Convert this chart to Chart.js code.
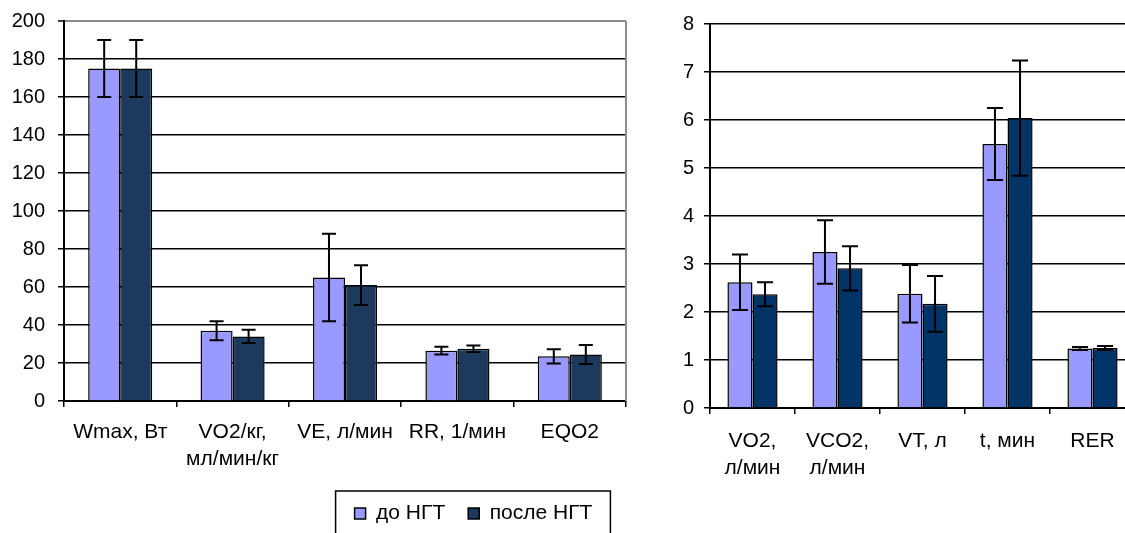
<!DOCTYPE html>
<html>
<head>
<meta charset="utf-8">
<script src="https://cdn.jsdelivr.net/npm/chart.js@4.4.1/dist/chart.umd.min.js"></script>
<style>
  html, body { margin: 0; padding: 0; background: #fff; }
  body { width: 1125px; height: 533px; overflow: hidden; position: relative; }
  #leftWrap { position: absolute; left: 0; top: 0; width: 640px; height: 533px; }
  #rightWrap { position: absolute; left: 640px; top: 0; width: 500px; height: 533px; }
</style>
</head>
<body>
<div id="leftWrap"><canvas id="left" width="640" height="533"></canvas></div>
<div id="rightWrap"><canvas id="right" width="500" height="533"></canvas></div>
<script>
// ---------- data ----------
const seriesNames = ['до НГТ', 'после НГТ'];

const leftCategories = ['Wmax, Вт', ['VO2/кг,', 'мл/мин/кг'], 'VE, л/мин', 'RR, 1/мин', 'EQO2'];
const leftBefore     = [175, 37, 65, 26.5, 23.5];
const leftBeforeErr  = [15, 5, 23, 2, 3.8];
const leftAfter      = [175, 34, 61, 27.5, 24.5];
const leftAfterErr   = [15, 3.5, 10.5, 1.7, 5];
const leftTicks      = [0, 20, 40, 60, 80, 100, 120, 140, 160, 180, 200];

const rightCategories = [['VO2,', 'л/мин'], ['VCO2,', 'л/мин'], 'VT, л', 't, мин', 'RER'];
const rightBefore     = [2.62, 3.25, 2.38, 5.5, 1.24];
const rightBeforeErr  = [0.58, 0.66, 0.6, 0.75, 0.03];
const rightAfter      = [2.37, 2.91, 2.17, 6.04, 1.25];
const rightAfterErr   = [0.25, 0.46, 0.58, 1.2, 0.04];
const rightTicks      = [0, 1, 2, 3, 4, 5, 6, 7, 8];

// ---------- styling ----------
const FONT = "'Liberation Sans', Arial, sans-serif";
const LIGHT = '#9999FF';
const DARK_L = '#1C3A5E';
const DARK_R = '#003366';

const errorBars = {
  id: 'errorBars',
  afterDatasetsDraw(chart, args, opts) {
    const ctx = chart.ctx, y = chart.scales.y;
    chart.data.datasets.forEach((ds, di) => {
      const meta = chart.getDatasetMeta(di);
      meta.data.forEach((bar, i) => {
        const v = ds.data[i], e = ds.errors[i];
        const top = y.getPixelForValue(v + e), bot = y.getPixelForValue(v - e);
        const x = bar.x, hw = opts.capWidth / 2;
        ctx.save();
        ctx.strokeStyle = '#000';
        ctx.lineWidth = opts.lineWidth;
        ctx.beginPath();
        ctx.moveTo(x, top); ctx.lineTo(x, bot);
        ctx.moveTo(x - hw, top); ctx.lineTo(x + hw, top);
        ctx.moveTo(x - hw, bot); ctx.lineTo(x + hw, bot);
        ctx.stroke();
        ctx.restore();
      });
    });
  }
};

const leftFrame = {
  id: 'leftFrame',
  beforeDatasetsDraw(chart) {
    const a = chart.chartArea, ctx = chart.ctx;
    ctx.save();
    ctx.strokeStyle = '#8c8c8c';
    ctx.lineWidth = 2;
    ctx.beginPath();
    ctx.moveTo(a.right, a.top);
    ctx.lineTo(a.right, a.bottom);
    ctx.stroke();
    ctx.restore();
  }
};

const legendPlace = {
  id: 'legendPlace',
  afterLayout(chart) {
    const L = chart.legend;
    const dx = 473.5 - (L.left + L.right) / 2;
    const dy = 480 - L.top;
    L.left += dx; L.right += dx;
    L.top += dy; L.bottom += dy;
  },
  afterDraw(chart) {
    const L = chart.legend, hb = L.legendHitBoxes;
    if (!hb || !hb.length) return;
    const last = hb[hb.length - 1];
    const x0 = hb[0].left - 19;
    const x1 = last.left + last.width + 18;
    const y0 = hb[0].top - 12;
    const ctx = chart.ctx;
    ctx.save();
    ctx.strokeStyle = '#000';
    ctx.lineWidth = 1.5;
    ctx.strokeRect(x0, y0, x1 - x0, 80);
    ctx.restore();
  }
};

function yScale(ticks, width, isLeft) {
  return {
    min: ticks[0], max: ticks[ticks.length - 1],
    afterBuildTicks(s) { s.ticks = ticks.map(v => ({ value: v })); },
    afterFit(s) { s.width = width; s.paddingTop = 0; s.paddingBottom = 0; },
    border: { display: true, color: '#000', width: 2 },
    grid: {
      color: (c) => (isLeft && c.tick && c.tick.value === ticks[ticks.length - 1]) ? '#8c8c8c' : '#000',
      lineWidth: (c) => (isLeft && c.tick && c.tick.value === ticks[ticks.length - 1]) ? 2 : 1.5,
      drawTicks: true, tickLength: 6, tickColor: '#000', tickWidth: 1.5
    },
    ticks: { color: '#000', font: { family: FONT, size: 20 }, padding: isLeft ? 13 : 10 }
  };
}

function xScale(height, pad) {
  return {
    afterFit(s) { s.height = height; },
    border: { display: true, color: '#000', width: 2 },
    grid: { display: true, drawOnChartArea: false, drawTicks: true, tickLength: 6, color: '#000', lineWidth: 1.5, offset: true },
    ticks: { color: '#000', font: { family: FONT, size: 21, lineHeight: 1.27 }, padding: pad, maxRotation: 0, minRotation: 0, autoSkip: false }
  };
}

new Chart(document.getElementById('left'), {
  type: 'bar',
  data: {
    labels: leftCategories,
    datasets: [
      { label: seriesNames[0], data: leftBefore, errors: leftBeforeErr, backgroundColor: LIGHT, borderColor: '#000', borderWidth: 1.5 },
      { label: seriesNames[1], data: leftAfter, errors: leftAfterErr, backgroundColor: DARK_L, borderColor: '#000', borderWidth: 1.5 }
    ]
  },
  options: {
    responsive: false, animation: false,
    layout: { padding: { top: 21, right: 14, left: 0, bottom: 0 } },
    datasets: { bar: { categoryPercentage: 0.57, barPercentage: 1 } },
    scales: { x: xScale(78, 12), y: yScale(leftTicks, 64, true) },
    plugins: {
      legend: {
        display: true, position: 'bottom',
        labels: { color: '#000', font: { family: FONT, size: 21 }, boxWidth: 11, boxHeight: 11, padding: 23, useBorderRadius: false }
      },
      tooltip: { enabled: false },
      errorBars: { capWidth: 14, lineWidth: 2 }
    }
  },
  plugins: [leftFrame, errorBars, legendPlace]
});

new Chart(document.getElementById('right'), {
  type: 'bar',
  data: {
    labels: rightCategories,
    datasets: [
      { label: seriesNames[0], data: rightBefore, errors: rightBeforeErr, backgroundColor: LIGHT, borderColor: '#000', borderWidth: 1.5 },
      { label: seriesNames[1], data: rightAfter, errors: rightAfterErr, backgroundColor: DARK_R, borderColor: '#000', borderWidth: 1.5 }
    ]
  },
  options: {
    responsive: false, animation: false,
    layout: { padding: { top: 24, right: 5, left: 0, bottom: 0 } },
    datasets: { bar: { categoryPercentage: 0.59, barPercentage: 1 } },
    scales: { x: xScale(125, 14), y: yScale(rightTicks, 70, false) },
    plugins: {
      legend: { display: false },
      tooltip: { enabled: false },
      errorBars: { capWidth: 16, lineWidth: 2 }
    }
  },
  plugins: [errorBars]
});
</script>
</body>
</html>
